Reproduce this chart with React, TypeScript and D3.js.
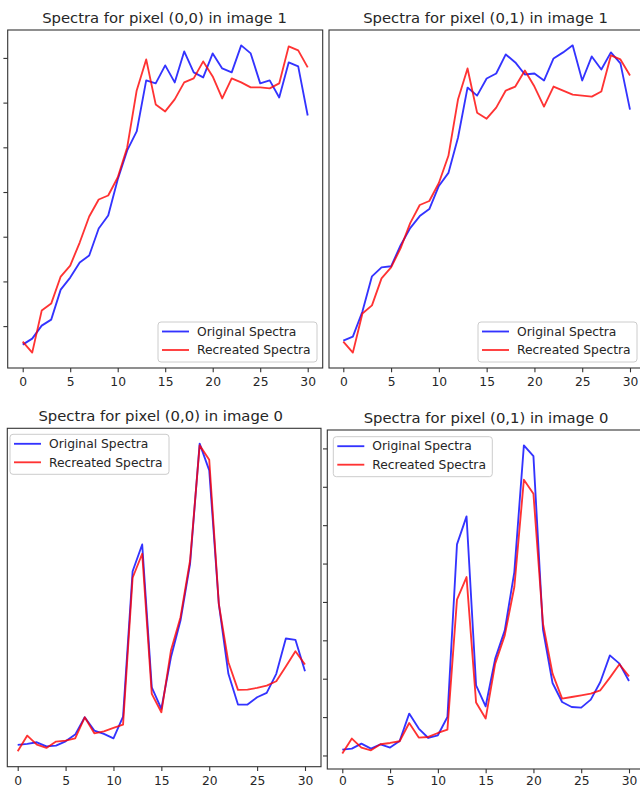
import React, { useEffect, useRef } from "react";
import * as d3 from "d3";

// band index on the x axis
const bands = [0, 1, 2, 3, 4, 5, 6, 7, 8, 9, 10, 11, 12, 13, 14, 15, 16, 17, 18, 19, 20, 21, 22, 23, 24, 25, 26, 27, 28, 29, 30];
const xTicks = [0, 5, 10, 15, 20, 25, 30];
const seriesNames = ["Original Spectra", "Recreated Spectra"];
const seriesColors = ["#0000ff", "#ff0000"];

// image 1, pixel (0,0)
const img1Pix00Orig = [597, 731, 1022, 1157, 1828, 2097, 2433, 2590, 3194, 3485, 4291, 4941, 5366, 6508, 6441, 6844, 6463, 7157, 6687, 6575, 7112, 6777, 6687, 7292, 7112, 6441, 6508, 6127, 6911, 6821, 5724];
const img1Pix00Rec = [664, 418, 1358, 1515, 2120, 2366, 2881, 3463, 3844, 3933, 4336, 5008, 6284, 6978, 5971, 5814, 6083, 6463, 6553, 6933, 6598, 6105, 6553, 6463, 6351, 6351, 6329, 6441, 7269, 7180, 6799];
// image 1, pixel (0,1)
const img1Pix01Orig = [709, 798, 1358, 2142, 2343, 2366, 2836, 3217, 3485, 3642, 4157, 4448, 5232, 6351, 6172, 6553, 6665, 7090, 6911, 6642, 6665, 6508, 7001, 7135, 7292, 6508, 7045, 6754, 7135, 6889, 5859];
const img1Pix01Rec = [687, 440, 1313, 1493, 2097, 2343, 2769, 3329, 3732, 3821, 4224, 4829, 6083, 6777, 5791, 5657, 5903, 6284, 6374, 6732, 6374, 5926, 6374, 6284, 6195, 6172, 6150, 6262, 7068, 6978, 6620];
// image 0, pixel (0,0)
const img0Pix00Orig = [1297, 1323, 1365, 1260, 1279, 1391, 1565, 2016, 1669, 1583, 1469, 2034, 5817, 6513, 2797, 2234, 3578, 4534, 6010, 9135, 8440, 4969, 3146, 2346, 2346, 2536, 2651, 3146, 4065, 4031, 3213];
const img0Pix00Rec = [1130, 1539, 1305, 1219, 1383, 1409, 1469, 2016, 1599, 1651, 1740, 1825, 5646, 6271, 2625, 2146, 3752, 4620, 6096, 9091, 8718, 4969, 3448, 2729, 2737, 2781, 2841, 2953, 3336, 3734, 3388];
// image 0, pixel (0,1)
const img0Pix01Orig = [1167, 1193, 1323, 1193, 1305, 1219, 1391, 2104, 1713, 1469, 1539, 2016, 6513, 7242, 2841, 2294, 3536, 4273, 5791, 9091, 8812, 4291, 2901, 2406, 2276, 2260, 2469, 2927, 3622, 3406, 2953];
const img0Pix01Rec = [1062, 1453, 1219, 1148, 1305, 1339, 1383, 1859, 1479, 1495, 1599, 1687, 5073, 5661, 2391, 1974, 3406, 4143, 5401, 8197, 7833, 4448, 3146, 2495, 2536, 2581, 2625, 2711, 3042, 3388, 3075];

const panels = [
    { title: "Spectra for pixel (0,0) in image 1", series: [img1Pix00Orig, img1Pix00Rec],
      frame: [7.7, 30, 322.7, 368], xRange: [22.7, 307.7], titleX: 164.5, showYTicks: true, legend: [158, 322] },
    { title: "Spectra for pixel (0,1) in image 1", series: [img1Pix01Orig, img1Pix01Rec],
      frame: [329, 30, 644.3, 368], xRange: [343.3, 630], titleX: 485.5, showYTicks: false, legend: [478, 322] },
    { title: "Spectra for pixel (0,0) in image 0", series: [img0Pix00Orig, img0Pix00Rec],
      frame: [7.3, 428.3, 321, 766.7], xRange: [17.7, 305], titleX: 160.7, showYTicks: false, legend: [10, 434.3] },
    { title: "Spectra for pixel (0,1) in image 0", series: [img0Pix01Orig, img0Pix01Rec],
      frame: [327.3, 430, 644, 769], xRange: [342.3, 629], titleX: 486, showYTicks: true, legend: [333.3, 436.7] },
];

const font = "DejaVu Sans, sans-serif";
const textColor = "#262626";
const H = 788;

export default function App() {
    const ref = useRef<SVGSVGElement>(null);

    useEffect(() => {
        const svg = d3.select(ref.current);
        svg.selectAll("*").remove();

        panels.forEach(p => {
            const [l, t, r, b] = p.frame;
            const g = svg.append("g");
            const x = d3.scaleLinear().domain([0, 30]).range(p.xRange);
            const all = p.series[0].concat(p.series[1]);
            const [lo, hi] = d3.extent(all) as [number, number];
            const pad = (hi - lo) * 0.05;
            const y = d3.scaleLinear().domain([lo - pad, hi + pad]).range([b, t]);

            // lines
            const line = d3.line<number>()
                .x((d, i) => x(bands[i]))
                .y(d => y(d));
            p.series.forEach((s, k) => {
                g.append("path")
                    .datum(s)
                    .attr("fill", "none")
                    .attr("stroke", seriesColors[k])
                    .attr("stroke-opacity", 0.8)
                    .attr("stroke-width", 1.85)
                    .attr("stroke-linejoin", "round")
                    .attr("d", line);
            });

            // frame
            g.append("rect")
                .attr("x", l).attr("y", t)
                .attr("width", r - l).attr("height", b - t)
                .attr("fill", "none")
                .attr("stroke", "#333")
                .attr("stroke-width", 1.1);

            // x axis; keep the bottom row's labels inside the picture
            const baseline = Math.min(b + 18.4, H - 3.2);
            const xAxis = g.append("g")
                .attr("transform", `translate(0,${b})`)
                .call(d3.axisBottom(x).tickValues(xTicks).tickSize(4.3).tickPadding(baseline - b - 4.3 - 8.7));
            xAxis.select(".domain").remove();
            xAxis.selectAll("line").attr("stroke", "#333").attr("stroke-width", 1.1);
            xAxis.selectAll("text")
                .attr("fill", textColor)
                .style("font-family", font)
                .style("font-size", "12.3px");

            // y ticks (labels fall outside the picture)
            if (p.showYTicks) {
                g.append("g").selectAll("line")
                    .data(y.ticks(8))
                    .enter().append("line")
                    .attr("x1", l - 4.3).attr("x2", l)
                    .attr("y1", d => y(d)).attr("y2", d => y(d))
                    .attr("stroke", "#333").attr("stroke-width", 1.1);
            }

            // title
            g.append("text")
                .attr("x", p.titleX)
                .attr("y", t - 7.2)
                .attr("text-anchor", "middle")
                .attr("fill", textColor)
                .style("font-family", font)
                .style("font-size", "14.8px")
                .text(p.title);

            // legend
            const [lx, ly] = p.legend;
            const lg = g.append("g").attr("transform", `translate(${lx},${ly})`);
            lg.append("rect")
                .attr("width", 159).attr("height", 40)
                .attr("rx", 3)
                .attr("fill", "white").attr("fill-opacity", 0.8)
                .attr("stroke", "#cccccc").attr("stroke-width", 1);
            seriesNames.forEach((name, k) => {
                const yy = 9.5 + k * 18.5;
                lg.append("line")
                    .attr("x1", 4).attr("x2", 31)
                    .attr("y1", yy).attr("y2", yy)
                    .attr("stroke", seriesColors[k])
                    .attr("stroke-opacity", 0.8)
                    .attr("stroke-width", 1.85);
                lg.append("text")
                    .attr("x", 39).attr("y", yy + 4.3)
                    .attr("fill", textColor)
                    .style("font-family", font)
                    .style("font-size", "12.3px")
                    .text(name);
            });
        });
    }, []);

    return (
        <svg ref={ref} width={640} height={H}
             style={{ position: "absolute", left: 0, top: 0, background: "white" }} />
    );
}
